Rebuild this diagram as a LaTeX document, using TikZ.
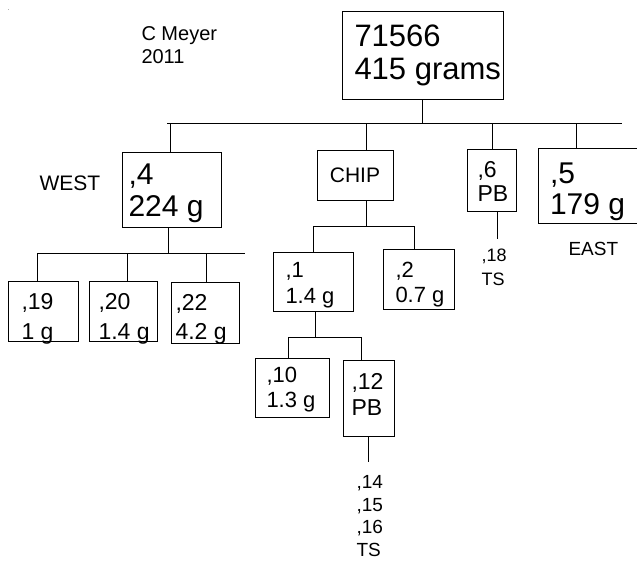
\documentclass[tikz,border=0pt]{standalone}
\usepackage{fontspec}
\setmainfont{Liberation Sans}
\newcommand{\fs}[2]{\fontsize{#1}{#2}\selectfont}
\begin{document}
\begin{tikzpicture}[x=1pt,y=-1pt,line width=1pt,
  box/.style={draw,inner sep=0pt,line width=1pt},
  txt/.style={inner sep=0pt,anchor=north west,align=left},
  link/.style={draw,line width=1pt}]
\useasboundingbox (0,0) rectangle (637,560);
\clip (0,0) rectangle (637,560);
\fill[gray!60] (7.5,8.5) rectangle (8.5,9.5);
% boxes
\node[box,minimum width=161pt,minimum height=88pt] (top) at (422.5,55) {};
\node[box,minimum width=99pt,minimum height=75pt] (west) at (171.5,189.5) {};
\node[box,minimum width=76pt,minimum height=50pt,font=\fs{21}{24}] (chip) at (355,175) {CHIP};
\node[box,minimum width=49pt,minimum height=62pt] (pb6) at (491.5,180) {};
\node[box,minimum width=112pt,minimum height=75pt] (b5) at (594,185.5) {};
\node[box,minimum width=70pt,minimum height=60pt] (b19) at (43,311) {};
\node[box,minimum width=68pt,minimum height=60pt] (b20) at (123,311) {};
\node[box,minimum width=68pt,minimum height=61pt] (b22) at (205,312.5) {};
\node[box,minimum width=80pt,minimum height=59pt] (b1) at (313,281.5) {};
\node[box,minimum width=71pt,minimum height=60pt] (b2) at (418.5,279) {};
\node[box,minimum width=74pt,minimum height=59pt] (b10) at (292,387.5) {};
\node[box,minimum width=51pt,minimum height=76pt] (b12) at (368.5,398) {};
% texts
\node[txt,font=\fs{31}{32.5}] (topt) at (354,24.5) {71566\\415 grams};
\node[txt,font=\fs{30}{32}] (westt) at (128,163) {,4\\224 g};
\node[txt,font=\fs{30}{31}] (b5t) at (549.5,162) {,5\\179 g};
\node[txt,font=\fs{23}{23.5}] (pb6t) at (477,161) {,6\\PB};
\node[txt,font=\fs{23}{29.5}] (b19t) at (21,293) {,19\\1 g};
\node[txt,font=\fs{23}{29.5}] (b20t) at (98,293) {,20\\1.4 g};
\node[txt,font=\fs{23}{29.5}] (b22t) at (175,293.5) {,22\\4.2 g};
\node[txt,font=\fs{22}{25.5}] (b1t) at (285,262) {,1\\1.4 g};
\node[txt,font=\fs{22}{25}] (b2t) at (395,262) {,2\\0.7 g};
\node[txt,font=\fs{22}{25}] (b10t) at (266,367) {,10\\1.3 g};
\node[txt,font=\fs{23}{26}] (b12t) at (351,373) {,12\\PB};
\node[txt,font=\fs{18}{24}] (ts18) at (481,248) {,18\\TS};
\node[txt,font=\fs{19}{22.5}] (ts14) at (356,475) {,14\\,15\\,16\\TS};
\node[txt,font=\fs{20}{23}] (cm) at (141,26) {C Meyer\\2011};
\node[txt,font=\fs{21}{24}] (westl) at (39,175.7) {WEST};
\node[txt,font=\fs{19}{22}] (eastl) at (568,242) {EAST};
% junction coordinates
\coordinate (j0) at (422,123);
\coordinate (h0l) at (167,123);
\coordinate (h0r) at (622,123);
\coordinate (d0a) at (170,123);
\coordinate (d0b) at (366,123);
\coordinate (d0c) at (492,123);
\coordinate (d0d) at (576,123);
\coordinate (jw) at (168,253);
\coordinate (hwl) at (37,253);
\coordinate (hwr) at (245,253);
\coordinate (dwa) at (37,253);
\coordinate (dwb) at (127,253);
\coordinate (dwc) at (206,253);
\coordinate (jc) at (366,226);
\coordinate (hcl) at (313,226);
\coordinate (hcr) at (414,226);
\coordinate (j1) at (315,337);
\coordinate (h1l) at (288,337);
\coordinate (h1r) at (361,337);
\coordinate (e12) at (368,462);
\coordinate (e6) at (497,239);
% connectors
\draw[link] (j0 |- top.south) -- (j0);
\draw[link] (h0l) -- (h0r);
\draw[link] (d0a) -- (d0a |- west.north);
\draw[link] (d0b) -- (d0b |- chip.north);
\draw[link] (d0c) -- (d0c |- pb6.north);
\draw[link] (d0d) -- (d0d |- b5.north);
\draw[link] (jw |- west.south) -- (jw);
\draw[link] (hwl) -- (hwr);
\draw[link] (dwa) -- (dwa |- b19.north);
\draw[link] (dwb) -- (dwb |- b20.north);
\draw[link] (dwc) -- (dwc |- b22.north);
\draw[link] (jc |- chip.south) -- (jc);
\draw[link] (hcl) -- (hcr);
\draw[link] (hcl) -- (hcl |- b1.north);
\draw[link] (hcr) -- (hcr |- b2.north);
\draw[link] (j1 |- b1.south) -- (j1);
\draw[link] (h1l) -- (h1r);
\draw[link] (h1l) -- (h1l |- b10.north);
\draw[link] (h1r) -- (h1r |- b12.north);
\draw[link] (e12 |- b12.south) -- (e12);
\draw[link] (e6 |- pb6.south) -- (e6);
\end{tikzpicture}
\end{document}
